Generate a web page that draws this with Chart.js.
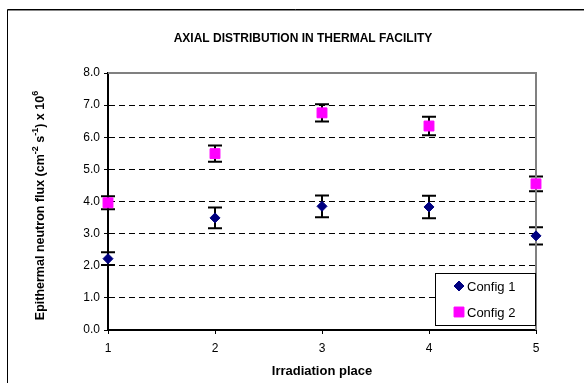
<!DOCTYPE html>
<html>
<head>
<meta charset="utf-8">
<script src="https://cdn.jsdelivr.net/npm/chart.js@4"></script>
<style>
    body { margin: 0; background: #fff; }
    canvas { display: block; }
</style>
</head>
<body>
<canvas id="fluxChart" width="584" height="383"></canvas>
<script>
// values
const places = [1, 2, 3, 4, 5];
const config1 = [2.22, 3.49, 3.85, 3.83, 2.93];
const config1Err = [0.20, 0.32, 0.34, 0.35, 0.27];
const config2 = [3.96, 5.49, 6.76, 6.35, 4.55];
const config2Err = [0.20, 0.25, 0.27, 0.29, 0.23];
const seriesNames = ['Config 1', 'Config 2'];

const chartTitle = 'AXIAL DISTRIBUTION IN THERMAL FACILITY';
const xTitle = 'Irradiation place';
// y title pieces: [text, superscript?]
const yTitleParts = [
    ['Epithermal neutron flux (cm', false], ['-2', true], [' s', false],
    ['-1', true], [') x 10', false], ['6', true]
];

const FONT = '"Liberation Sans", Arial, sans-serif';

const toPoints = (ys) => places.map((x, i) => ({ x, y: ys[i] }));

// draws the vertical error bars with caps from each dataset's err array
const errorBars = {
    id: 'errorBars',
    beforeDatasetsDraw(chart) {
        const { ctx, scales: { x, y } } = chart;
        ctx.save();
        ctx.strokeStyle = '#000';
        ctx.lineWidth = 2;
        chart.data.datasets.forEach(ds => {
            ds.data.forEach((p, i) => {
                const px = x.getPixelForValue(p.x);
                const top = y.getPixelForValue(p.y + ds.err[i]);
                const bot = y.getPixelForValue(p.y - ds.err[i]);
                ctx.beginPath();
                ctx.moveTo(px, top); ctx.lineTo(px, bot);
                ctx.moveTo(px - 7, top); ctx.lineTo(px + 7, top);
                ctx.moveTo(px - 7, bot); ctx.lineTo(px + 7, bot);
                ctx.stroke();
            });
        });
        ctx.restore();
    }
};

// frame, plot border, titles and the boxed legend
const decorations = {
    id: 'decorations',
    beforeDraw(chart) {
        const { ctx } = chart;
        ctx.save();
        ctx.strokeStyle = '#000';
        ctx.lineWidth = 1;
        ctx.beginPath();
        ctx.moveTo(7.5, 383); ctx.lineTo(7.5, 9.5); ctx.lineTo(584, 9.5);
        ctx.stroke();
        ctx.strokeStyle = '#888';
        ctx.beginPath();
        ctx.moveTo(8, 10.5); ctx.lineTo(584, 10.5);
        ctx.stroke();
        ctx.restore();
    },
    beforeDatasetsDraw(chart) {
        const { ctx, chartArea: a } = chart;
        ctx.save();
        ctx.strokeStyle = '#808080';
        ctx.lineWidth = 2;
        ctx.beginPath();
        ctx.moveTo(a.left, a.top); ctx.lineTo(a.right, a.top); ctx.lineTo(a.right, a.bottom);
        ctx.stroke();
        ctx.restore();
    },
    afterDraw(chart) {
        const { ctx, chartArea: a } = chart;
        ctx.save();
        ctx.fillStyle = '#000';
        ctx.textAlign = 'center';
        ctx.textBaseline = 'middle';
        ctx.font = 'bold 12px ' + FONT;
        ctx.fillText(chartTitle, 303, 39);
        ctx.font = 'bold 13px ' + FONT;
        ctx.fillText(xTitle, (a.left + a.right) / 2, 371);

        // rotated y title with superscripts
        const mainFont = 'bold 12.5px ' + FONT;
        const supFont = 'bold 9px ' + FONT;
        let total = 0;
        yTitleParts.forEach(([t, sup]) => {
            ctx.font = sup ? supFont : mainFont;
            total += ctx.measureText(t).width;
        });
        ctx.translate(44, (a.top + a.bottom) / 2 + 4);
        ctx.rotate(-Math.PI / 2);
        ctx.textAlign = 'left';
        ctx.textBaseline = 'alphabetic';
        let cx = -total / 2;
        yTitleParts.forEach(([t, sup]) => {
            ctx.font = sup ? supFont : mainFont;
            ctx.fillText(t, cx, sup ? -6 : 0);
            cx += ctx.measureText(t).width;
        });
        ctx.restore();

        // legend box
        const lx = a.left + 327, ly = a.top + 200, lw = a.right - (a.left + 327), lh = 53;
        ctx.save();
        ctx.fillStyle = '#fff';
        ctx.fillRect(lx, ly, lw, lh);
        ctx.strokeStyle = '#000';
        ctx.lineWidth = 1;
        ctx.strokeRect(lx + 0.5, ly + 0.5, lw - 1, lh - 1);
        ctx.font = '13px ' + FONT;
        ctx.textAlign = 'left';
        ctx.textBaseline = 'middle';
        chart.data.datasets.forEach((ds, i) => {
            const cy = ly + 13 + i * 26;
            ctx.fillStyle = ds.backgroundColor;
            ctx.strokeStyle = ds.borderColor;
            Chart.helpers.drawPoint(ctx, {
                pointStyle: ds.pointStyle, radius: ds.pointRadius, borderWidth: 1,
            }, lx + 24, cy);
            ctx.fillStyle = '#000';
            ctx.fillText(ds.label, lx + 32, cy + 1);
        });
        ctx.restore();
    }
};

const ctx = document.getElementById('fluxChart').getContext('2d');
new Chart(ctx, {
    type: 'scatter',
    data: {
        datasets: [
            {
                label: seriesNames[0],
                data: toPoints(config1),
                err: config1Err,
                pointStyle: 'rectRot',
                pointRadius: 5,
                backgroundColor: '#000080',
                borderColor: '#000080',
                borderWidth: 1,
                clip: false
            },
            {
                label: seriesNames[1],
                data: toPoints(config2),
                err: config2Err,
                pointStyle: 'rect',
                pointRadius: 7,
                backgroundColor: '#FF00FF',
                borderColor: '#FF00FF',
                borderWidth: 1,
                clip: false
            }
        ]
    },
    options: {
        responsive: false,
        animation: false,
        layout: { padding: { left: 0, right: 48, top: 73, bottom: 0 } },
        plugins: {
            legend: { display: false },
            tooltip: { enabled: false }
        },
        scales: {
            x: {
                type: 'linear',
                min: 1,
                max: 5,
                afterFit: (s) => { s.height = 53; },
                ticks: { stepSize: 1, color: '#000', padding: 7, font: { family: FONT, size: 12 } },
                grid: { drawOnChartArea: false, tickLength: 4, tickColor: '#000' },
                border: { color: '#000', width: 2 }
            },
            y: {
                min: 0,
                max: 8,
                afterFit: (s) => { s.width = 108; },
                ticks: {
                    stepSize: 1,
                    color: '#000',
                    padding: 4,
                    font: { family: FONT, size: 12 },
                    callback: (v) => v.toFixed(1)
                },
                grid: {
                    color: (c) => (c.tick && (c.tick.value === 0 || c.tick.value === 8)) ? 'rgba(0,0,0,0)' : '#000',
                    lineWidth: 1,
                    tickLength: 4,
                    tickColor: '#000'
                },
                border: { color: '#000', width: 2, dash: [6, 4] }
            }
        }
    },
    plugins: [errorBars, decorations]
});
</script>
</body>
</html>
